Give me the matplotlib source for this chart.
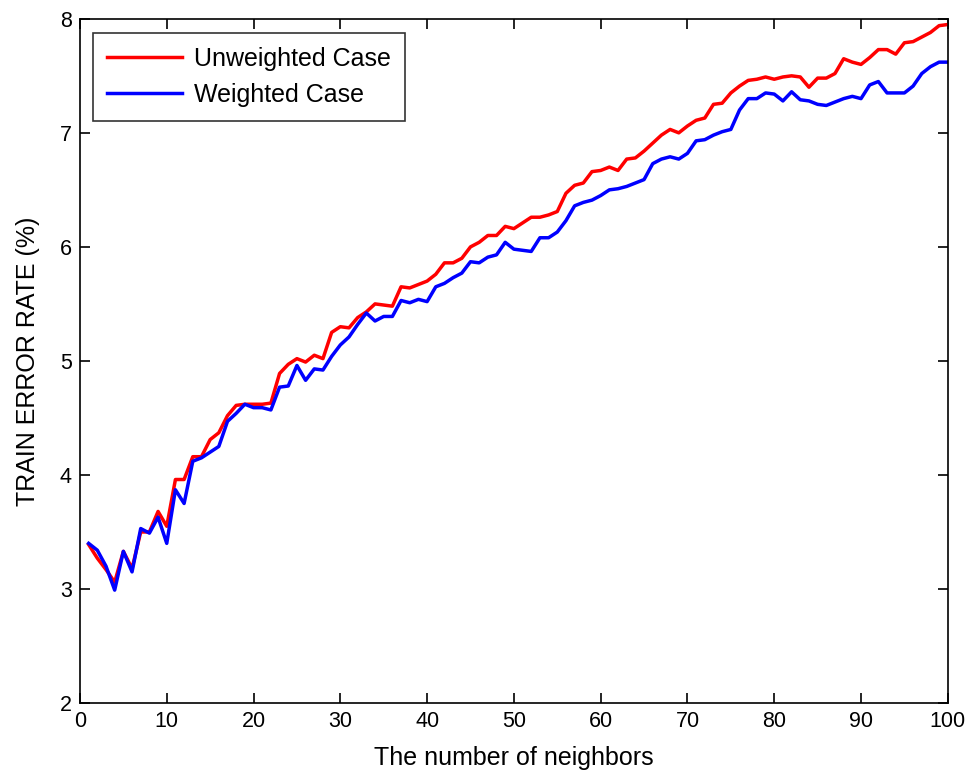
import numpy as np
import matplotlib
matplotlib.use('Agg')
import matplotlib.pyplot as plt

plt.rcParams['font.family'] = ['Liberation Sans', 'DejaVu Sans']

# valores (k = 1..100)
vizinhos = np.arange(1, 101)

erro_sem_peso = [
    3.39, 3.27, 3.17, 3.06, 3.33, 3.18, 3.50, 3.50, 3.68, 3.55,
    3.96, 3.96, 4.16, 4.16, 4.31, 4.37, 4.52, 4.61, 4.62, 4.62,
    4.62, 4.63, 4.89, 4.97, 5.02, 4.99, 5.05, 5.02, 5.25, 5.30,
    5.29, 5.38, 5.43, 5.50, 5.49, 5.48, 5.65, 5.64, 5.67, 5.70,
    5.76, 5.86, 5.86, 5.90, 6.00, 6.04, 6.10, 6.10, 6.18, 6.16,
    6.21, 6.26, 6.26, 6.28, 6.31, 6.47, 6.54, 6.56, 6.66, 6.67,
    6.70, 6.67, 6.77, 6.78, 6.84, 6.91, 6.98, 7.03, 7.00, 7.06,
    7.11, 7.13, 7.25, 7.26, 7.35, 7.41, 7.46, 7.47, 7.49, 7.47,
    7.49, 7.50, 7.49, 7.40, 7.48, 7.48, 7.52, 7.65, 7.62, 7.60,
    7.66, 7.73, 7.73, 7.69, 7.79, 7.80, 7.84, 7.88, 7.94, 7.95,
]

erro_com_peso = [
    3.40, 3.34, 3.20, 2.99, 3.33, 3.15, 3.53, 3.49, 3.63, 3.40,
    3.87, 3.75, 4.12, 4.15, 4.20, 4.25, 4.47, 4.54, 4.62, 4.59,
    4.59, 4.57, 4.77, 4.78, 4.96, 4.83, 4.93, 4.92, 5.04, 5.14,
    5.21, 5.32, 5.42, 5.35, 5.39, 5.39, 5.53, 5.51, 5.54, 5.52,
    5.65, 5.68, 5.73, 5.77, 5.87, 5.86, 5.91, 5.93, 6.04, 5.98,
    5.97, 5.96, 6.08, 6.08, 6.13, 6.23, 6.36, 6.39, 6.41, 6.45,
    6.50, 6.51, 6.53, 6.56, 6.59, 6.73, 6.77, 6.79, 6.77, 6.82,
    6.93, 6.94, 6.98, 7.01, 7.03, 7.20, 7.30, 7.30, 7.35, 7.34,
    7.28, 7.36, 7.29, 7.28, 7.25, 7.24, 7.27, 7.30, 7.32, 7.30,
    7.42, 7.45, 7.35, 7.35, 7.35, 7.41, 7.52, 7.58, 7.62, 7.62,
]

xticks = [0, 10, 20, 30, 40, 50, 60, 70, 80, 90, 100]
yticks = [2, 3, 4, 5, 6, 7, 8]

fig = plt.figure(figsize=(9.74, 7.74), dpi=100)
ax = fig.add_axes([0.0821, 0.0917, 0.891, 0.884])

ax.plot(vizinhos, erro_sem_peso, color='#ff0000', linewidth=2.5, label='Unweighted Case')
ax.plot(vizinhos, erro_com_peso, color='#0000ff', linewidth=2.5, label='Weighted Case')

ax.set_xlim(0, 100)
ax.set_ylim(2, 8)
ax.set_xticks(xticks)
ax.set_yticks(yticks)
ax.tick_params(direction='in', top=True, right=True, length=7, width=1.2,
               labelsize=15.5, pad=6)
for s in ax.spines.values():
    s.set_linewidth(1.2)

ax.set_xlabel('The number of neighbors', fontsize=18, labelpad=10)
ax.set_ylabel('TRAIN ERROR RATE (%)', fontsize=18, labelpad=14)

leg = ax.legend(loc='upper left', bbox_to_anchor=(0.015, 0.9795), fontsize=18,
                frameon=True, fancybox=False, handlelength=3.0, borderpad=0.55,
                labelspacing=0.5, handletextpad=0.5, borderaxespad=0)
leg.get_frame().set_edgecolor('black')
leg.get_frame().set_linewidth(1.2)

fig.savefig('out.png', dpi=100)
